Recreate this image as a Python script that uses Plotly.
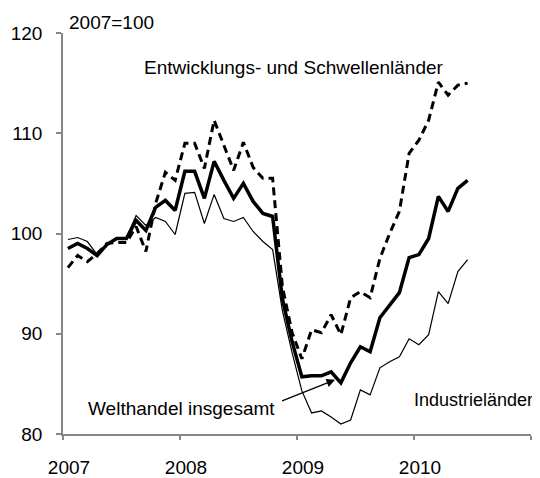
import plotly.graph_objects as go

# Monthly data Jan 2007 - Jun 2010 (index, 2007 = 100)
months = [f"{2007 + i // 12}-{i % 12 + 1:02d}" for i in range(42)]
welthandel = [98.5, 99.0, 98.5, 97.8, 98.9, 99.5, 99.5, 101.3, 100.3, 102.6, 103.3, 102.3,
              106.2, 106.2, 103.5, 107.2, 105.3, 103.5, 105.0, 103.2, 102.0, 101.7, 93.5, 89.2,
              85.7, 85.8, 85.8, 86.2, 85.1, 87.1, 88.7, 88.2, 91.6, 92.9, 94.1, 97.6,
              97.9, 99.5, 103.7, 102.2, 104.5, 105.3]
industrie = [99.4, 99.6, 99.2, 97.9, 98.8, 99.5, 99.6, 101.8, 100.8, 101.6, 101.2, 99.9,
             104.0, 104.1, 101.0, 103.9, 101.5, 101.2, 101.6, 100.2, 99.2, 98.4, 92.3, 88.1,
             84.3, 82.1, 82.3, 81.7, 81.0, 81.4, 84.4, 83.9, 86.6, 87.2, 87.7, 89.5,
             88.9, 89.9, 94.2, 93.0, 96.2, 97.4]
entwicklung = [96.6, 97.8, 97.2, 98.0, 99.0, 99.1, 99.1, 100.7, 98.2, 103.0, 106.1, 105.3,
               109.0, 109.0, 106.5, 111.3, 108.8, 106.3, 109.1, 106.6, 105.5, 105.5, 94.7, 90.1,
               87.5, 90.4, 90.1, 91.9, 89.9, 93.6, 94.2, 93.6, 97.5, 100.0, 102.2, 108.0,
               109.3, 111.3, 115.1, 113.8, 114.8, 115.0]
year_ticks = [2007, 2008, 2009, 2010, 2011]
year_labels = ["2007", "2008", "2009", "2010", ""]

# position each month in the middle of its month on a year axis
xpos = [int(m[:4]) + (int(m[5:]) - 0.5) / 12 for m in months]

FONT = "Liberation Sans, Arial, sans-serif"
FS = 19
fig = go.Figure()
fig.add_trace(go.Scatter(x=xpos, y=industrie, mode="lines",
                         line=dict(color="black", width=1.2), name="Industrieländer"))
fig.add_trace(go.Scatter(x=xpos, y=entwicklung, mode="lines",
                         line=dict(color="black", width=3, dash="8px,5px"),
                         name="Entwicklungs- und Schwellenländer"))
fig.add_trace(go.Scatter(x=xpos, y=welthandel, mode="lines",
                         line=dict(color="black", width=3.5), name="Welthandel insgesamt"))

# the page body has an 8px margin, so the figure is 8px smaller than the window
fig.update_layout(
    width=532, height=470,
    margin=dict(l=55, r=9, t=25, b=44),
    paper_bgcolor="white", plot_bgcolor="white",
    showlegend=False,
    font=dict(family=FONT, size=FS, color="black"),
    xaxis=dict(range=[2007, 2011], tickvals=year_ticks, ticktext=year_labels,
               automargin=False,
               showgrid=False, zeroline=False, showline=True, linecolor="#868686", linewidth=1.5,
               ticks="outside", ticklen=4, tickcolor="#868686", tickwidth=1.5,
               ticklabelshift=6, ticklabelstandoff=11,
               tickfont=dict(family=FONT, size=FS, color="black")),
    yaxis=dict(range=[80, 120], tickvals=[80, 90, 100, 110, 120],
               automargin=False,
               showgrid=False, zeroline=False, showline=True, linecolor="#868686", linewidth=1.5,
               ticks="outside", ticklen=5, tickcolor="#868686", tickwidth=1.5,
               ticklabelstandoff=10,
               tickfont=dict(family=FONT, size=FS, color="black")),
)

fig.add_annotation(text="2007=100", xref="paper", yref="paper", x=0.008, y=1.0,
                   xanchor="left", yanchor="bottom", yshift=-2, showarrow=False,
                   font=dict(family=FONT, size=FS, color="black"))
fig.add_annotation(text="Entwicklungs- und Schwellenländer", x=2007.675, y=116.6,
                   xanchor="left", yanchor="middle", showarrow=False,
                   font=dict(family=FONT, size=FS, color="black"))
fig.add_annotation(text="Industrieländer", x=2009.98, y=83.4,
                   xanchor="left", yanchor="middle", showarrow=False,
                   font=dict(family=FONT, size=18, color="black"))
fig.add_annotation(text="Welthandel insgesamt", x=2007.2, y=82.5,
                   xanchor="left", yanchor="middle", showarrow=False,
                   font=dict(family=FONT, size=FS, color="black"))
fig.add_annotation(text="", x=2009.325, y=85.4, ax=2008.86, ay=83.25,
                   xref="x", yref="y", axref="x", ayref="y",
                   showarrow=True, arrowhead=2, arrowsize=1.3, arrowwidth=1.3,
                   arrowcolor="black")

fig.write_html("out.html")
